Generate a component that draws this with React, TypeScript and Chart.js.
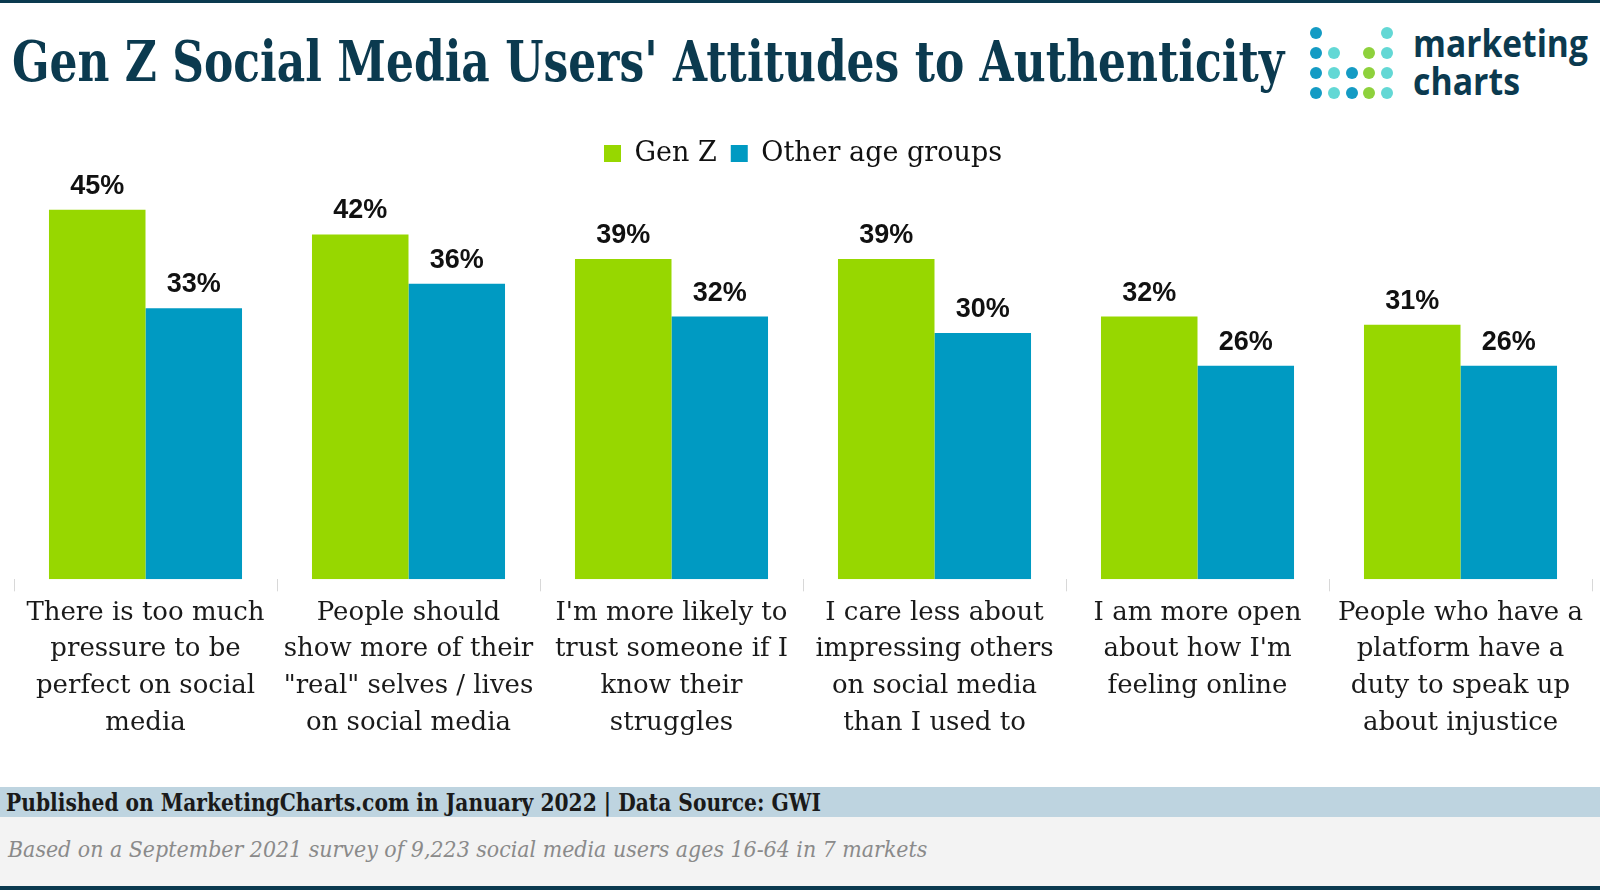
import React, { useEffect, useLayoutEffect, useRef, useState } from 'react';
import { Chart, registerables } from 'chart.js';

Chart.register(...registerables);

const categories: string[][] = [
  ['There is too much', 'pressure to be', 'perfect on social', 'media'],
  ['People should', 'show more of their', '"real" selves / lives', 'on social media'],
  ["I'm more likely to", 'trust someone if I', 'know their', 'struggles'],
  ['I care less about', 'impressing others', 'on social media', 'than I used to'],
  ['I am more open', "about how I'm", 'feeling online'],
  ['People who have a', 'platform have a', 'duty to speak up', 'about injustice'],
];
const genZValues = [45, 42, 39, 39, 32, 31];
const otherAgeValues = [33, 36, 32, 30, 26, 26];
const seriesNames = ['Gen Z', 'Other age groups'];
const titleText = "Gen Z Social Media Users' Attitudes to Authenticity";
const publishedText = 'Published on MarketingCharts.com in January 2022 | Data Source: GWI';
const surveyText = 'Based on a September 2021 survey of 9,223 social media users ages 16-64 in 7 markets';

const GREEN = '#97d700';
const BLUE = '#009ac2';
const DARK = '#0b3a4f';

function FitText(props: { text: string; width: number; style: React.CSSProperties }) {
  const ref = useRef<HTMLSpanElement>(null);
  const [scale, setScale] = useState(1);
  useLayoutEffect(() => {
    if (ref.current) {
      const w = ref.current.offsetWidth;
      if (w > 0) setScale(props.width / w);
    }
  }, [props.text, props.width]);
  return (
    <span
      ref={ref}
      style={{
        display: 'inline-block',
        whiteSpace: 'nowrap',
        transformOrigin: 'left center',
        transform: `scaleX(${scale})`,
        ...props.style,
      }}
    >
      {props.text}
    </span>
  );
}

const valueLabelPlugin = {
  id: 'valueLabels',
  afterDatasetsDraw(chart: any) {
    const ctx = chart.ctx;
    ctx.save();
    ctx.font = 'bold 27px "Liberation Sans", Arial, sans-serif';
    ctx.fillStyle = '#111111';
    ctx.textAlign = 'center';
    ctx.textBaseline = 'alphabetic';
    chart.data.datasets.forEach((ds: any, i: number) => {
      const meta = chart.getDatasetMeta(i);
      meta.data.forEach((bar: any, j: number) => {
        ctx.fillText(ds.data[j] + '%', bar.x, bar.y - 16);
      });
    });
    ctx.restore();
  },
};

function BarChart() {
  const canvasRef = useRef<HTMLCanvasElement>(null);
  useEffect(() => {
    if (!canvasRef.current) return;
    const chart = new Chart(canvasRef.current, {
      type: 'bar',
      data: {
        labels: categories,
        datasets: [
          { label: seriesNames[0], data: genZValues, backgroundColor: GREEN, borderWidth: 0 },
          { label: seriesNames[1], data: otherAgeValues, backgroundColor: BLUE, borderWidth: 0 },
        ],
      },
      options: {
        animation: false,
        responsive: true,
        maintainAspectRatio: false,
        layout: { padding: { left: 14, right: 8, top: 6, bottom: 35 } },
        datasets: { bar: { categoryPercentage: 0.734, barPercentage: 1 } },
        plugins: {
          legend: {
            display: true,
            position: 'top',
            labels: {
              boxWidth: 17,
              boxHeight: 17,
              padding: 14,
              color: '#111111',
              font: { family: '"DejaVu Serif", serif', size: 27 },
            },
          },
          tooltip: { enabled: false },
        },
        scales: {
          x: {
            border: { display: false },
            grid: {
              display: true,
              offset: true,
              drawOnChartArea: false,
              drawTicks: true,
              tickLength: 12,
              color: '#d8d8d8',
            },
            ticks: {
              color: '#1a1a1a',
              maxRotation: 0,
              minRotation: 0,
              autoSkip: false,
              padding: 3,
              font: { family: '"DejaVu Serif", serif', size: 26, lineHeight: 1.42 },
            },
          },
          y: {
            display: false,
            min: 0,
            max: 49,
          },
        },
      },
      plugins: [valueLabelPlugin],
    });
    return () => chart.destroy();
  }, []);
  return <canvas ref={canvasRef} />;
}

const dotBlue = '#149bc4';
const dotTeal = '#63d8d5';
const dotGreen = '#8ed13c';
const logoDots: (string | null)[][] = [
  [dotBlue, null, null, null, dotTeal],
  [dotBlue, dotTeal, null, dotGreen, dotTeal],
  [dotBlue, dotTeal, dotBlue, dotGreen, dotTeal],
  [dotBlue, dotTeal, dotBlue, dotGreen, dotTeal],
];

function Logo() {
  const dots: React.ReactNode[] = [];
  logoDots.forEach((row, r) =>
    row.forEach((c, k) => {
      if (!c) return;
      dots.push(
        <div
          key={r + '-' + k}
          style={{
            position: 'absolute',
            left: 1310 + k * 17.8,
            top: 27 + r * 20,
            width: 12,
            height: 12,
            borderRadius: 6,
            background: c,
          }}
        />
      );
    })
  );
  return (
    <>
      {dots}
      <div style={{ position: 'absolute', left: 1413, top: 17, lineHeight: '36px', color: DARK }}>
        <FitText text="marketing" width={175} style={{ font: 'bold 37px "Open Sans", sans-serif' }} />
      </div>
      <div style={{ position: 'absolute', left: 1413, top: 55, lineHeight: '36px', color: DARK }}>
        <FitText text="charts" width={107} style={{ font: 'bold 37px "Open Sans", sans-serif' }} />
      </div>
    </>
  );
}

export default function App() {
  return (
    <div
      style={{
        position: 'absolute',
        left: 0,
        top: 0,
        width: 1600,
        height: 890,
        background: '#ffffff',
        overflow: 'hidden',
      }}
    >
      <div style={{ position: 'absolute', left: 0, top: 0, width: 1600, height: 3, background: DARK }} />
      <div style={{ position: 'absolute', left: 12, top: 28, lineHeight: '56px', color: DARK }}>
        <FitText text={titleText} width={1272} style={{ font: 'bold 56px "DejaVu Serif", serif' }} />
      </div>
      <Logo />
      <div style={{ position: 'absolute', left: 0, top: 120, width: 1600, height: 660 }}>
        <BarChart />
      </div>
      <div style={{ position: 'absolute', left: 0, top: 787, width: 1600, height: 30, background: '#bed4e0' }} />
      <div style={{ position: 'absolute', left: 6, top: 788, lineHeight: '28px', color: '#1a1a1a' }}>
        <FitText text={publishedText} width={815} style={{ font: 'bold 24px "DejaVu Serif", serif' }} />
      </div>
      <div style={{ position: 'absolute', left: 0, top: 817, width: 1600, height: 69, background: '#f3f3f3' }} />
      <div style={{ position: 'absolute', left: 8, top: 837, lineHeight: '28px', color: '#8a8a8a' }}>
        <FitText text={surveyText} width={919} style={{ font: 'italic 22px "DejaVu Serif", serif' }} />
      </div>
      <div style={{ position: 'absolute', left: 0, top: 886, width: 1600, height: 4, background: DARK }} />
    </div>
  );
}
